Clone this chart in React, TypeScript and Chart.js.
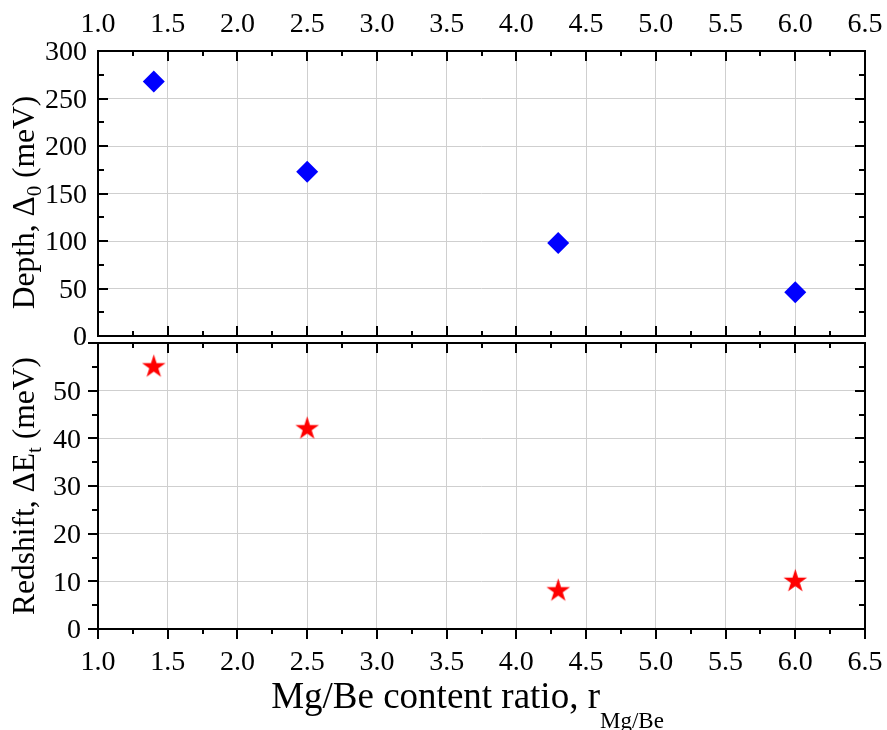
import React, { useEffect, useRef } from 'react';
import { Chart, registerables } from 'chart.js';

Chart.register(...registerables);

// ---- data ----
const ratios = [1.4, 2.5, 4.3, 6.0];
const depthValues = [268, 173, 98, 46];
const redshiftValues = [55, 42, 8, 10];
const xTickLabels = ['1.0', '1.5', '2.0', '2.5', '3.0', '3.5', '4.0', '4.5', '5.0', '5.5', '6.0', '6.5'];
const depthTickLabels = ['0', '50', '100', '150', '200', '250', '300'];
const redshiftTickLabels = ['0', '10', '20', '30', '40', '50'];

const FONT = '"Liberation Serif", "Times New Roman", serif';
const GRID = '#cfcfcf';
const TICK_FONT = 28;

type Part = { t: string; sub?: boolean };

function drawText(ctx: CanvasRenderingContext2D, s: string, x: number, y: number, size: number, align: CanvasTextAlign) {
  ctx.save();
  ctx.font = `${size}px ${FONT}`;
  ctx.textAlign = align;
  ctx.textBaseline = 'alphabetic';
  ctx.fillStyle = '#000';
  ctx.fillText(s, x, y);
  ctx.restore();
}

function drawParts(ctx: CanvasRenderingContext2D, parts: Part[], size: number, subSize: number, subDy: number) {
  let total = 0;
  const widths = parts.map((p) => {
    ctx.font = `${p.sub ? subSize : size}px ${FONT}`;
    const w = ctx.measureText(p.t).width;
    total += w;
    return w;
  });
  let x = -total / 2;
  parts.forEach((p, i) => {
    ctx.font = `${p.sub ? subSize : size}px ${FONT}`;
    ctx.textAlign = 'left';
    ctx.textBaseline = 'alphabetic';
    ctx.fillStyle = '#000';
    ctx.fillText(p.t, x, p.sub ? subDy : 0);
    x += widths[i];
  });
}

type PanelCfg = {
  xLabelPos: 'top' | 'bottom' | 'none';
  xLabelBaseline: number;
  yTickLabels: string[];
  yLabelRight: number;
  bottomOut: boolean;
  leftOut: boolean;
  yTitle: Part[];
  yTitleX: number;
  yTitleCenterShift: number;
  xTitle?: Part[];
};

function makePanelPlugin(cfg: PanelCfg) {
  return {
    id: 'panelDeco',
    afterDraw(chart: any) {
      const ctx: CanvasRenderingContext2D = chart.ctx;
      const { left, right, top, bottom } = chart.chartArea;
      const xs = chart.scales.x;
      const ys = chart.scales.y;
      const MAJ = 10;
      const MIN = 5;
      ctx.save();
      ctx.strokeStyle = '#000';
      ctx.lineWidth = 2;
      ctx.lineCap = 'butt';
      const xStep = parseFloat(xTickLabels[1]) - parseFloat(xTickLabels[0]);
      const nX = Math.round((xs.max - xs.min) / (xStep / 2));
      ctx.beginPath();
      for (let i = 0; i <= nX; i++) {
        const v = xs.min + (i * xStep) / 2;
        const px = Math.round(xs.getPixelForValue(v));
        const len = i % 2 === 0 ? MAJ : MIN;
        ctx.moveTo(px, top);
        ctx.lineTo(px, top + len);
        ctx.moveTo(px, bottom);
        ctx.lineTo(px, cfg.bottomOut ? bottom + len : bottom - len);
      }
      const yStep = parseFloat(cfg.yTickLabels[1]) - parseFloat(cfg.yTickLabels[0]);
      const nY = Math.round((ys.max - ys.min) / (yStep / 2));
      for (let i = 0; i <= nY; i++) {
        const v = ys.min + (i * yStep) / 2;
        const py = Math.round(ys.getPixelForValue(v));
        const len = i % 2 === 0 ? MAJ : MIN + 1;
        ctx.moveTo(left, py);
        ctx.lineTo(cfg.leftOut ? left - len : left + len, py);
        ctx.moveTo(right, py);
        ctx.lineTo(right - len, py);
      }
      ctx.stroke();
      ctx.strokeRect(left, top, right - left, bottom - top);
      ctx.restore();

      if (cfg.xLabelPos !== 'none') {
        xTickLabels.forEach((s) => {
          const px = xs.getPixelForValue(parseFloat(s));
          const by = cfg.xLabelPos === 'top' ? top - cfg.xLabelBaseline : bottom + cfg.xLabelBaseline;
          drawText(ctx, s, px, by, TICK_FONT, 'center');
        });
      }
      cfg.yTickLabels.forEach((s) => {
        const py = ys.getPixelForValue(parseFloat(s));
        drawText(ctx, s, cfg.yLabelRight, py + TICK_FONT * 0.338, TICK_FONT, 'right');
      });
      ctx.save();
      ctx.translate(cfg.yTitleX, (top + bottom) / 2 + cfg.yTitleCenterShift);
      ctx.rotate(-Math.PI / 2);
      drawParts(ctx, cfg.yTitle, 31.5, 21, 7);
      ctx.restore();
      if (cfg.xTitle) {
        ctx.save();
        ctx.translate((left + right) / 2 - 14, bottom + 79);
        drawParts(ctx, cfg.xTitle, 37, 23, 20);
        ctx.restore();
      }
    },
  };
}

function makeStar(R: number, color: string) {
  const c = document.createElement('canvas');
  const size = Math.ceil(2 * R + 2);
  c.width = size;
  c.height = size;
  const g = c.getContext('2d')!;
  const cx = size / 2, cy = size / 2;
  const r = R * 0.382;
  g.beginPath();
  for (let i = 0; i < 10; i++) {
    const ang = -Math.PI / 2 + (i * Math.PI) / 5;
    const rad = i % 2 === 0 ? R : r;
    const x = cx + rad * Math.cos(ang);
    const y = cy + rad * Math.sin(ang);
    if (i === 0) g.moveTo(x, y);
    else g.lineTo(x, y);
  }
  g.closePath();
  g.fillStyle = color;
  g.fill();
  return c;
}

function baseScales(yMax: number, yStep: number, xPos: 'top' | 'bottom', xSize: number) {
  return {
    x: {
      type: 'linear',
      position: xPos,
      min: parseFloat(xTickLabels[0]),
      max: parseFloat(xTickLabels[xTickLabels.length - 1]),
      ticks: { display: false, stepSize: 0.5 },
      grid: { color: GRID, lineWidth: 1, drawTicks: false },
      border: { display: false },
      afterFit: (s: any) => {
        s.height = xSize;
        s.paddingLeft = 0;
        s.paddingRight = 0;
      },
    },
    y: {
      type: 'linear',
      position: 'left',
      min: 0,
      max: yMax,
      ticks: { display: false, stepSize: yStep },
      grid: { color: GRID, lineWidth: 1, drawTicks: false },
      border: { display: false },
      afterFit: (s: any) => {
        s.width = 98;
        s.paddingTop = 0;
        s.paddingBottom = 0;
      },
    },
  };
}

export default function App() {
  const topRef = useRef<HTMLCanvasElement>(null);
  const botRef = useRef<HTMLCanvasElement>(null);

  useEffect(() => {
    const star = makeStar(12.4, '#ff0000');
    const top = new Chart(topRef.current!, {
      type: 'scatter',
      data: {
        datasets: [
          {
            data: ratios.map((x, i) => ({ x, y: depthValues[i] })),
            pointStyle: 'rectRot',
            pointRadius: 11,
            backgroundColor: '#0000ff',
            borderColor: '#0000ff',
            borderWidth: 0,
          },
        ],
      },
      options: {
        responsive: false,
        animation: false,
        devicePixelRatio: 1,
        layout: { padding: { left: 0, right: 22, top: 0, bottom: 730 - 336 } },
        plugins: { legend: { display: false }, tooltip: { enabled: false } },
        scales: baseScales(300, 50, 'top', 51) as any,
      },
      plugins: [
        makePanelPlugin({
          xLabelPos: 'top',
          xLabelBaseline: 19,
          yTickLabels: depthTickLabels,
          yLabelRight: 87,
          bottomOut: false,
          leftOut: false,
          yTitle: [{ t: 'Depth, Δ' }, { t: '0', sub: true }, { t: ' (meV)' }],
          yTitleX: 34,
          yTitleCenterShift: 9,
        }),
      ],
    });
    const bot = new Chart(botRef.current!, {
      type: 'scatter',
      data: {
        datasets: [
          {
            data: ratios.map((x, i) => ({ x, y: redshiftValues[i] })),
            pointStyle: star,
            pointRadius: 12,
            backgroundColor: '#ff0000',
            borderColor: '#ff0000',
            borderWidth: 0,
          },
        ],
      },
      options: {
        responsive: false,
        animation: false,
        devicePixelRatio: 1,
        layout: { padding: { left: 0, right: 22, top: 343, bottom: 0 } },
        plugins: { legend: { display: false }, tooltip: { enabled: false } },
        scales: baseScales(60, 10, 'bottom', 730 - 629) as any,
      },
      plugins: [
        makePanelPlugin({
          xLabelPos: 'bottom',
          xLabelBaseline: 41,
          yTickLabels: redshiftTickLabels,
          yLabelRight: 81,
          bottomOut: true,
          leftOut: true,
          yTitle: [{ t: 'Redshift, ΔE' }, { t: 't', sub: true }, { t: ' (meV)' }],
          yTitleX: 34,
          yTitleCenterShift: 0,
          xTitle: [{ t: 'Mg/Be content ratio, r' }, { t: 'Mg/Be', sub: true }],
        }),
      ],
    });
    return () => {
      top.destroy();
      bot.destroy();
    };
  }, []);

  const cs: React.CSSProperties = { position: 'absolute', left: 0, top: 0, width: 887, height: 730 };
  return (
    <div style={{ position: 'absolute', left: 0, top: 0, width: 887, height: 730, background: '#fff' }}>
      <canvas ref={topRef} width={887} height={730} style={cs} />
      <canvas ref={botRef} width={887} height={730} style={cs} />
    </div>
  );
}
